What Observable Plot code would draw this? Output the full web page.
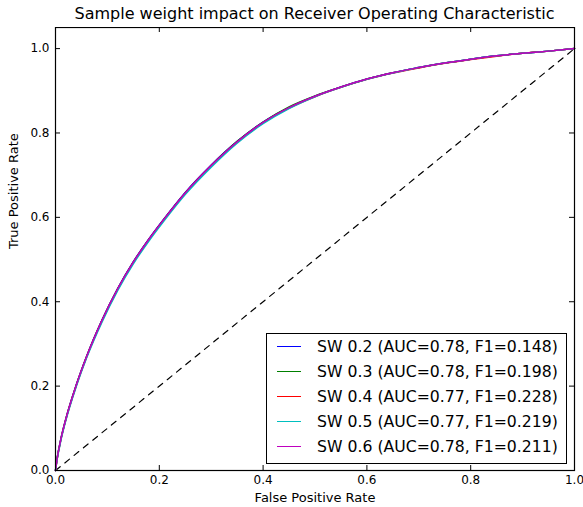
<!DOCTYPE html>
<html><head><meta charset="utf-8">
<script src="https://cdn.jsdelivr.net/npm/d3@7"></script>
<script src="https://cdn.jsdelivr.net/npm/@observablehq/plot@0.6"></script>
<style>
body{margin:0;background:#fff;font-family:"DejaVu Sans",sans-serif;}
#wrap{position:relative;width:583px;height:507px;overflow:hidden;}
#title{position:absolute;left:55px;width:519px;top:5px;text-align:center;font-size:16px;line-height:18px;color:#000;white-space:nowrap;}
#chart{position:absolute;left:0;top:27px;}
#legend{position:absolute;left:266px;top:333px;width:299px;height:129px;border:1px solid #000;background:#fff;}
.row{position:absolute;left:0;height:25px;display:flex;align-items:center;font-size:15.7px;white-space:nowrap;color:#000;}
.sw{display:inline-block;width:24px;height:0;border-top:1px solid;margin-left:10px;margin-right:16px;}
</style></head>
<body>
<div id="wrap">
  <div id="title"></div>
  <div id="chart"></div>
  <div id="legend"></div>
</div>
<script>
const title = "Sample weight impact on Receiver Operating Characteristic";
const xLabel = "False Positive Rate";
const yLabel = "True Positive Rate";
const xTicks = [0, 0.2, 0.4, 0.6, 0.8, 1.0];
const yTicks = [0, 0.2, 0.4, 0.6, 0.8, 1.0];
const diagX = [0, 1];
const diagY = [0, 1];

const seriesNames = ["SW 0.2 (AUC=0.78, F1=0.148)", "SW 0.3 (AUC=0.78, F1=0.198)", "SW 0.4 (AUC=0.77, F1=0.228)", "SW 0.5 (AUC=0.77, F1=0.219)", "SW 0.6 (AUC=0.78, F1=0.211)"];
const seriesColors = ["#0000ff", "#008000", "#ff0000", "#00bfbf", "#bf00bf"];

const fpr = [0, 0.003, 0.01, 0.02, 0.04, 0.06, 0.09, 0.12, 0.15, 0.18, 0.21, 0.25, 0.3, 0.35, 0.4, 0.45, 0.5, 0.55, 0.6, 0.65, 0.7, 0.75, 0.8, 0.85, 0.9, 0.95, 1.0];
const tprSW02 = [0, 0.028, 0.073, 0.123, 0.203, 0.271, 0.358, 0.432, 0.495, 0.549, 0.598, 0.659, 0.724, 0.780, 0.826, 0.860, 0.887, 0.909, 0.928, 0.943, 0.955, 0.966, 0.975, 0.983, 0.989, 0.994, 1.0];
const tprSW03 = [0, 0.027, 0.072, 0.122, 0.202, 0.270, 0.357, 0.431, 0.494, 0.548, 0.597, 0.658, 0.723, 0.780, 0.826, 0.862, 0.888, 0.909, 0.928, 0.943, 0.955, 0.966, 0.975, 0.983, 0.989, 0.994, 1.0];
const tprSW04 = [0, 0.026, 0.071, 0.121, 0.201, 0.269, 0.356, 0.430, 0.493, 0.547, 0.596, 0.657, 0.722, 0.778, 0.824, 0.859, 0.886, 0.908, 0.927, 0.942, 0.954, 0.965, 0.974, 0.982, 0.989, 0.994, 1.0];
const tprSW05 = [0, 0.025, 0.069, 0.119, 0.199, 0.267, 0.353, 0.427, 0.490, 0.544, 0.593, 0.654, 0.719, 0.776, 0.822, 0.858, 0.886, 0.908, 0.927, 0.942, 0.955, 0.966, 0.975, 0.983, 0.989, 0.994, 1.0];
const tprSW06 = [0, 0.027, 0.072, 0.122, 0.202, 0.270, 0.357, 0.431, 0.494, 0.548, 0.597, 0.658, 0.723, 0.779, 0.825, 0.860, 0.887, 0.909, 0.928, 0.943, 0.955, 0.966, 0.975, 0.983, 0.989, 0.994, 1.0];
const seriesTpr = [tprSW02, tprSW03, tprSW04, tprSW05, tprSW06];

document.getElementById("title").textContent = title;

const W = 583, H = 480;
const mL = 55, mR = 9, mT = 0, mB = 37;
const innerW = W - mL - mR, innerH = H - mT - mB;
const tickLen = 5;
const fmt = d3.format(".1f");

const diag = diagX.map((x, i) => ({x, y: diagY[i]}));
const lineMarks = seriesTpr.map((tpr, s) =>
  Plot.line(fpr.map((x, i) => ({x, y: tpr[i]})), {x: "x", y: "y", stroke: seriesColors[s], strokeWidth: 1.5, curve: "monotone-x"})
);

const chart = Plot.plot({
  width: W, height: H,
  marginLeft: mL, marginRight: mR, marginTop: mT, marginBottom: mB,
  x: {domain: [0, 1]},
  y: {domain: [0, 1.05]},
  style: {fontFamily: "DejaVu Sans", fontSize: "12px", color: "#000", background: "#fff"},
  marks: [
    Plot.axisX(xTicks, {tickSize: 0, tickPadding: 5, tickFormat: fmt, label: null, fontSize: 12}),
    Plot.axisY(yTicks, {tickSize: 0, tickPadding: 6, tickFormat: fmt, label: null, fontSize: 12}),
    Plot.ruleX(xTicks, {x: d => d, insetTop: innerH - tickLen, stroke: "#000"}),
    Plot.ruleX(xTicks, {x: d => d, insetBottom: innerH - tickLen, stroke: "#000"}),
    Plot.ruleY(yTicks, {y: d => d, insetRight: innerW - tickLen, stroke: "#000"}),
    Plot.ruleY(yTicks, {y: d => d, insetLeft: innerW - tickLen, stroke: "#000"}),
    Plot.line(diag, {x: "x", y: "y", stroke: "#000", strokeDasharray: "6,6", strokeWidth: 1.2}),
    ...lineMarks,
    Plot.frame({stroke: "#000", strokeWidth: 1.2}),
    Plot.text([xLabel], {frameAnchor: "bottom", dy: 31, text: d => d, fontSize: 13}),
    Plot.text([yLabel], {frameAnchor: "left", dx: -42, rotate: -90, text: d => d, fontSize: 13})
  ]
});
document.getElementById("chart").appendChild(chart);

const legend = document.getElementById("legend");
seriesNames.forEach((name, i) => {
  const row = document.createElement("div");
  row.className = "row";
  row.style.top = (13 + i * 25.2 - 12.5 - 1) + "px";
  const sw = document.createElement("span");
  sw.className = "sw";
  sw.style.borderTopColor = seriesColors[i];
  const t = document.createElement("span");
  t.textContent = name;
  row.appendChild(sw);
  row.appendChild(t);
  legend.appendChild(row);
});
</script>
</body></html>
